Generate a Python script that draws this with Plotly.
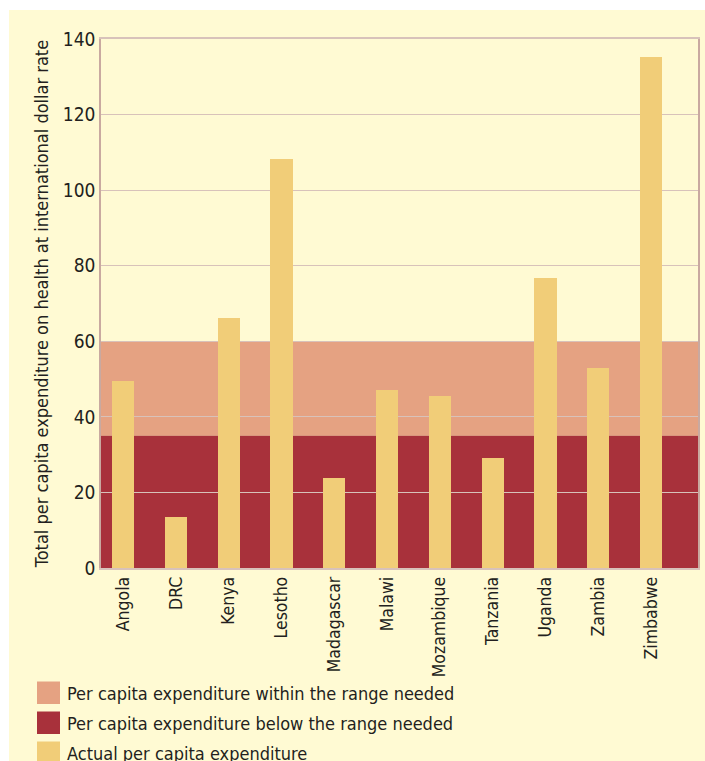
import plotly.graph_objects as go

countries = ["Angola", "DRC", "Kenya", "Lesotho", "Madagascar", "Malawi",
             "Mozambique", "Tanzania", "Uganda", "Zambia", "Zimbabwe"]
actual_expenditure = [49.6, 13.4, 66.2, 108.2, 23.7, 47.0, 45.6, 29.2, 76.8, 52.8, 135.2]
below_range_max = 35
within_range_max = 60
y_ticks = [0, 20, 40, 60, 80, 100, 120, 140]
legend_labels = ["Per capita expenditure within the range needed",
                 "Per capita expenditure below the range needed",
                 "Actual per capita expenditure"]

W, H = 705, 761
L, R, T, B = 101, 7, 39, 193
PW, PH = W - L - R, H - T - B

BG = "#FFFAD3"
BAR = "#F1CD78"
WITHIN = "#E5A282"
BELOW = "#A8313B"
GRID = "#D8C2BA"
TXT = "#231F20"
FONT = "DejaVu Sans Condensed, sans-serif"

def px_x(px):
    return (px - L) / PW

def px_y(py):
    return (H - B - py) / PH

fig = go.Figure()
fig.add_trace(go.Bar(x=countries, y=actual_expenditure, marker_color=BAR,
                     marker_line_width=0, width=0.42, showlegend=False))

shapes = [
    dict(type="rect", xref="paper", yref="paper", x0=px_x(0), x1=px_x(W),
         y0=px_y(10), y1=px_y(-5), fillcolor="white", line_width=0, layer="below"),
    dict(type="rect", xref="paper", yref="paper", x0=px_x(0), x1=px_x(9),
         y0=px_y(H + 5), y1=px_y(-5), fillcolor="white", line_width=0, layer="below"),
    dict(type="rect", xref="paper", yref="y", x0=0, x1=1, y0=below_range_max,
         y1=within_range_max, fillcolor=WITHIN, line_width=0, layer="below"),
    dict(type="rect", xref="paper", yref="y", x0=0, x1=1, y0=0,
         y1=below_range_max, fillcolor=BELOW, line_width=0, layer="below"),
]
annotations = []
leg_colors = [WITHIN, BELOW, BAR]
for i, (lab, col) in enumerate(zip(legend_labels, leg_colors)):
    top = 681.5 + 30 * i
    shapes.append(dict(type="rect", xref="paper", yref="paper",
                       x0=px_x(37), x1=px_x(60), y0=px_y(top + 22.5), y1=px_y(top),
                       fillcolor=col, line_width=0))
    annotations.append(dict(xref="paper", yref="paper", x=px_x(65), y=px_y(top + 11.5),
                            text=lab, showarrow=False, xanchor="left", yanchor="middle",
                            font=dict(family=FONT, size=18, color=TXT)))

fig.update_layout(
    width=W, height=H,
    margin=dict(l=L, r=R, t=T, b=B, autoexpand=False),
    paper_bgcolor=BG, plot_bgcolor=BG,
    bargap=0,
    shapes=shapes, annotations=annotations,
    font=dict(family=FONT, color=TXT),
    xaxis=dict(range=[-0.417, 10.89], tickangle=-90, showgrid=False,
               tickfont=dict(size=17.5, color=TXT), ticks="", showline=True,
               linecolor=GRID, linewidth=1.5, mirror=True),
    yaxis=dict(range=[0, 140], tickvals=y_ticks, showgrid=True, gridcolor=GRID,
               gridwidth=1, zeroline=False, tickfont=dict(size=19, color=TXT),
               ticks="", showline=True, linecolor="#C9A9A0", linewidth=1.5, mirror=True,
               title=dict(text="Total per capita expenditure on health at international dollar rate",
                          font=dict(size=18, color=TXT), standoff=10)),
)
fig.write_html("out.html")
